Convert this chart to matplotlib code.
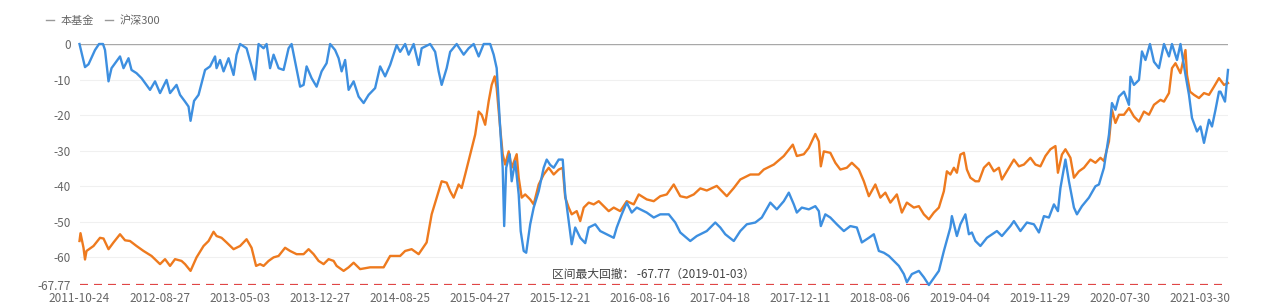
import matplotlib
matplotlib.use("Agg")
import matplotlib.pyplot as plt
from matplotlib.lines import Line2D

plt.rcParams['font.family'] = ['Noto Sans CJK SC', 'DejaVu Sans']

# ---- data ----
tick_labels = ["2011-10-24", "2012-08-27", "2013-05-03", "2013-12-27", "2014-08-25",
               "2015-04-27", "2015-12-21", "2016-08-16", "2017-04-18", "2017-12-11",
               "2018-08-06", "2019-04-04", "2019-11-29", "2020-07-30", "2021-03-30"]
tick_step = 160  # trading days between labels

fund_days = [0, 11, 18, 31, 39, 47, 51, 58, 64, 81, 88, 98, 104, 114, 124, 141, 151, 161, 174, 181,
             194, 201, 211, 218, 222, 229, 238, 251, 261, 271, 274, 281, 288, 298, 308, 314, 321, 334,
             344, 351, 358, 368, 374, 381, 388, 398, 408, 418, 424, 431, 441, 448, 454, 464, 474, 484,
             494, 501, 511, 518, 524, 531, 538, 548, 558, 568, 578, 591, 601, 611, 621, 634, 641, 651,
             658, 668, 678, 684, 701, 711, 718, 724, 734, 741, 754, 768, 778, 788, 798, 808, 821, 828,
             834, 841, 846, 849, 853, 860, 864, 871, 878, 882, 888, 893, 901, 908, 918, 928, 934, 941,
             948, 958, 966, 971, 978, 984, 991, 1001, 1011, 1018, 1031, 1041, 1054, 1068, 1074, 1084,
             1094, 1104, 1114, 1121, 1134, 1148, 1161, 1178, 1191, 1201, 1221, 1234, 1254, 1271, 1281,
             1291, 1308, 1321, 1334, 1351, 1364, 1381, 1394, 1408, 1418, 1428, 1434, 1444, 1458, 1471,
             1478, 1482, 1491, 1501, 1514, 1528, 1541, 1554, 1564, 1578, 1588, 1598, 1608, 1618, 1628,
             1638, 1648, 1654, 1664, 1678, 1688, 1698, 1718, 1728, 1741, 1744, 1754, 1761, 1771, 1778,
             1784, 1791, 1801, 1814, 1834, 1844, 1861, 1868, 1881, 1894, 1908, 1918, 1928, 1938, 1948,
             1956, 1961, 1971, 1978, 1988, 1994, 2004, 2018, 2031, 2038, 2048, 2058, 2064, 2071, 2078,
             2088, 2098, 2101, 2108, 2118, 2124, 2131, 2140, 2148, 2158, 2168, 2178, 2184, 2194, 2201,
             2211, 2218, 2224, 2234, 2241, 2248, 2258, 2264, 2271, 2278, 2281, 2290, 2296]
fund_dd = [0, -6.5, -5.7, -1.7, 0, 0, -1.7, -10.5, -6.8, -3.5, -6.8, -4, -7.3, -8.2, -9.6, -12.9, -10.5,
           -13.8, -10.1, -13.8, -11.5, -14.3, -16.2, -17.6, -21.6, -16, -14.3, -7.3, -6.3, -3.5, -6.8,
           -4.5, -7.7, -4, -8.7, -3, 0, -1.2, -6.3, -10, 0, -1.2, 0, -6.8, -3, -6.8, -7.3, -1.2, 0, -5,
           -12, -11.5, -6.3, -9.6, -12, -7.7, -5.4, 0, -1.7, -4, -7.7, -4.5, -12.9, -10.5, -14.8, -16.6,
           -14.3, -12.4, -6.3, -9.1, -5.9, -0.3, -2.2, 0, -3, 0, -5.9, -1.2, 0, -2.2, -7.7, -11.5, -6.8,
           -2.2, 0, -3, -1.2, 0, -3.5, 0, 0, -3, -6.8, -23.6, -34.8, -51.2, -34.8, -31, -38.6, -33,
           -42.3, -52.6, -58.2, -58.7, -50.7, -46, -41.4, -34.8, -32.5, -34, -34.8, -32.5, -32.5, -42.3,
           -49.8, -56.3, -51.6, -54.5, -56, -51.6, -50.7, -52.6, -53.5, -54.5, -51.6, -47.9, -44.6,
           -47.4, -46, -46.5, -47.4, -48.8, -47.9, -47.9, -50.2, -53, -55.4, -54, -52.6, -50.2, -51.6,
           -53.5, -55.4, -52.6, -50.7, -50.2, -48.8, -44.6, -46.5, -44.2, -41.8, -45.1, -47.4, -46,
           -46.5, -45.6, -47, -51.2, -47.9, -48.8, -50.7, -52.6, -51.2, -51.6, -55.8, -54.5, -53.5,
           -58.2, -58.7, -59.6, -61, -62.4, -64.7, -67, -64.7, -63.8, -65.6, -67.77, -63.8, -58.2,
           -51.6, -48.4, -54, -50.7, -47.9, -53.5, -53, -55.4, -56.8, -54.5, -52.6, -54, -51.2, -49.8,
           -52.6, -50.2, -50.7, -53, -48.4, -48.8, -45.1, -47, -40.5, -32.5, -38.6, -46, -47.9, -45.6,
           -43.2, -40, -39.5, -34.8, -25.5, -16.6, -18.5, -14.8, -13.4, -17.1, -9.2, -11.5, -10.1, -2.1,
           -4.5, 0, -5, -6.8, 0, -3.5, 0, -4.5, 0, -8.7, -14.3, -20.8, -24.6, -23.2, -27.8, -21.3,
           -23.2, -18.5, -13.4, -13.4, -16.2, -7.3]

hs300_days = [0, 2, 8, 11, 14, 28, 41, 48, 58, 68, 81, 91, 101, 114, 128, 144, 161, 171, 181, 191, 204,
              211, 222, 234, 248, 258, 268, 274, 284, 294, 308, 321, 334, 344, 353, 361, 368, 378, 388,
              398, 411, 421, 434, 448, 458, 468, 478, 488, 498, 508, 514, 528, 538, 548, 561, 581, 608,
              621, 641, 651, 664, 678, 694, 704, 714, 724, 734, 741, 748, 758, 764, 771, 781, 791, 798,
              804, 811, 818, 824, 830, 834, 841, 846, 851, 858, 864, 874, 878, 884, 891, 901, 908, 918,
              928, 938, 948, 958, 966, 971, 978, 984, 994, 1001, 1008, 1018, 1028, 1038, 1048, 1058,
              1068, 1081, 1094, 1108, 1118, 1134, 1148, 1161, 1174, 1188, 1201, 1214, 1228, 1241, 1254,
              1274, 1294, 1308, 1321, 1341, 1358, 1368, 1388, 1408, 1426, 1434, 1448, 1458, 1471, 1478,
              1482, 1488, 1501, 1511, 1521, 1534, 1544, 1558, 1568, 1578, 1591, 1601, 1611, 1621, 1634,
              1644, 1654, 1668, 1678, 1688, 1698, 1708, 1718, 1728, 1734, 1741, 1748, 1754, 1761, 1768,
              1774, 1781, 1791, 1798, 1808, 1818, 1828, 1838, 1844, 1858, 1868, 1878, 1888, 1901, 1911,
              1921, 1931, 1941, 1951, 1956, 1964, 1971, 1981, 1988, 1998, 2008, 2021, 2031, 2041, 2048,
              2058, 2064, 2071, 2078, 2088, 2098, 2108, 2118, 2128, 2138, 2148, 2161, 2168, 2178, 2184,
              2191, 2201, 2211, 2214, 2220, 2228, 2238, 2248, 2258, 2268, 2278, 2288, 2296]
hs300_dd = [-55.4, -53.2, -57.3, -60.6, -58.2, -56.8, -54.5, -54.7, -57.7, -55.8, -53.5, -55.2, -55.4,
            -56.8, -58.2, -59.6, -61.9, -60.5, -62.4, -60.5, -61, -61.9, -63.8, -60, -56.8, -55.4, -52.8,
            -54, -54.5, -55.8, -57.7, -56.8, -54.9, -57.3, -62.4, -61.9, -62.4, -61, -60, -59.6, -57.3,
            -58.2, -59.1, -59.1, -57.7, -59.1, -61, -61.9, -60.5, -61, -62.4, -63.8, -62.8, -61.5, -63.3,
            -62.8, -62.8, -59.6, -59.6, -58.2, -57.7, -59.1, -55.8, -47.9, -43.2, -38.6, -39, -41.4,
            -43.2, -39.5, -40.5, -36.7, -31.1, -25.5, -19, -19.9, -22.7, -16.1, -11.5, -9.1, -12.4,
            -23.6, -31, -33.9, -30.2, -34.8, -31, -37.6, -43.2, -42.3, -43.7, -45.1, -39.5, -36.7,
            -34.8, -36.7, -35.3, -34.8, -43.2, -46, -47.9, -47, -49.8, -46, -44.6, -45.1, -44.2, -45.6,
            -47, -46, -47, -44.2, -45.1, -42.3, -43.7, -44.2, -42.8, -42.3, -39.5, -42.8, -43.2, -42.3,
            -40.6, -41.2, -39.9, -42.8, -40.5, -38.1, -36.7, -36.7, -35.3, -33.9, -31.5, -28.3, -31.5,
            -31, -29.2, -25.3, -27.4, -34.4, -30.2, -30.6, -33.4, -35.3, -34.8, -33.4, -35.3, -38.6,
            -42.8, -39.5, -43.2, -41.8, -44.6, -42.3, -47.4, -44.6, -46, -45.6, -47.9, -49.3, -47.4,
            -46, -41.4, -35.8, -36.7, -34.8, -36.2, -31.1, -30.6, -35.3, -37.6, -38.6, -38.6, -34.8,
            -33.4, -35.8, -34.8, -38.1, -34.8, -32.5, -34.4, -33.9, -32, -33.9, -34.4, -31.5, -29.6,
            -28.7, -36.2, -31.1, -29.6, -32, -37.6, -35.8, -34.8, -32.5, -33.4, -32, -32.9, -27.4,
            -18.5, -22.2, -19.9, -19.9, -18, -20.4, -21.8, -19, -19.9, -17.1, -15.7, -16.2, -13.8,
            -6.8, -5.4, -8.2, -1.7, -8.7, -13.4, -14.3, -15.2, -13.8, -14.3, -12, -9.6, -11.5, -11]

max_dd = -67.77
max_dd_date = "2019-01-03"
y_ticks = [0, -10, -20, -30, -40, -50, -60, max_dd]
y_tick_labels = ["0", "-10", "-20", "-30", "-40", "-50", "-60", "-67.77"]
series_names = ["本基金", "沪深300"]

# ---- figure ----
fig = plt.figure(figsize=(12.8, 3.04), dpi=100)
fig.patch.set_facecolor("#ffffff")
ax = fig.add_axes([79.5 / 1280, 1 - 285 / 304, (1228 - 79.5) / 1280, (285 - 44) / 304])
ax.set_facecolor("#ffffff")

blue = "#3d8fe0"
orange = "#ee7a1e"
text_grey = "#666666"

for y in [-10, -20, -30, -40, -50, -60]:
    ax.axhline(y, color="#f0f0f0", lw=0.8, zorder=0)
ax.axhline(0, color="#a8a8a8", lw=1.0, zorder=1)
ax.axhline(max_dd, color="#e04646", lw=1.6, ls=(0, (3.6, 2.7)), zorder=1)

ax.plot(hs300_days, hs300_dd, color=orange, lw=1.7, zorder=3, clip_on=False,
        solid_joinstyle="round")
ax.plot(fund_days, fund_dd, color=blue, lw=1.7, zorder=4, clip_on=False,
        solid_joinstyle="round")

ax.set_xlim(0, 2296)
ax.set_ylim(max_dd, 0)
ax.set_xticks([i * tick_step for i in range(len(tick_labels))])
ax.set_xticklabels(tick_labels)
ax.set_yticks(y_ticks)
ax.set_yticklabels(y_tick_labels)
ax.tick_params(axis="both", length=0, labelsize=8.5, colors=text_grey)
ax.tick_params(axis="y", pad=6)
ax.tick_params(axis="x", pad=5)
for s in ax.spines.values():
    s.set_visible(False)

ax.annotate(f"区间最大回撤： -67.77（{max_dd_date}）", xy=(0.5, max_dd),
            xycoords=("axes fraction", "data"), xytext=(0, 3), textcoords="offset points",
            ha="center", va="bottom", fontsize=8.5, color="#444444")

handles = [Line2D([], [], color="#999999", lw=1.0) for _ in series_names]
leg = fig.legend(handles, series_names, loc="center left", bbox_to_anchor=(36 / 1280, 1 - 21 / 304),
                 ncol=2, frameon=False, fontsize=8, handlelength=0.7, handletextpad=0.6,
                 columnspacing=1.0, labelcolor=text_grey)

fig.savefig("out.png", dpi=100, facecolor=fig.get_facecolor())
